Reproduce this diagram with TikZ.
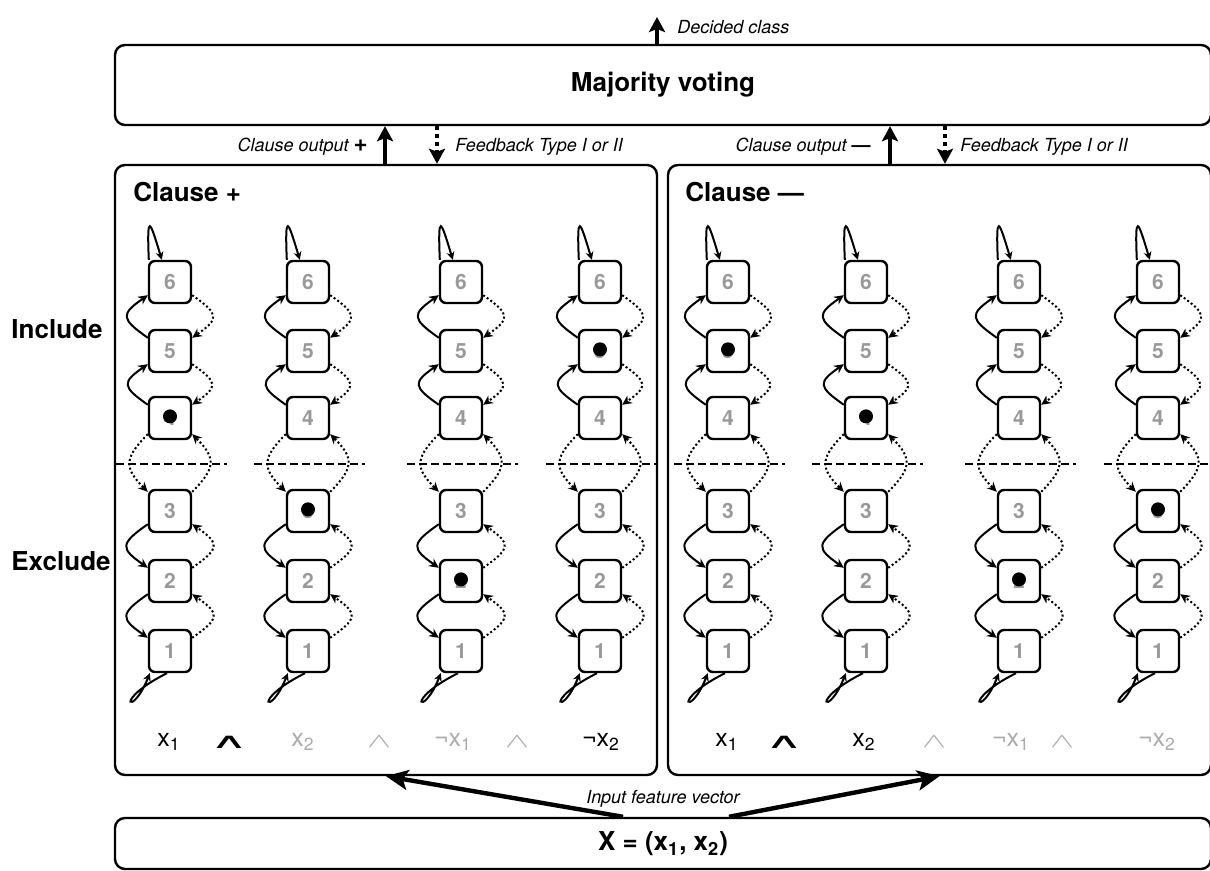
\documentclass[tikz,border=0pt]{standalone}
\usepackage{fontspec}
\setmainfont{TeX Gyre Heros}
\newfontfamily\symfont{DejaVu Sans}
\usetikzlibrary{positioning, arrows.meta}

\definecolor{numgray}{HTML}{999999}
\definecolor{litgray}{HTML}{ABABAB}

\newcommand{\andsym}{\scalebox{1.5}[0.85]{$\wedge$}}
\newcommand{\andbold}{\scalebox{2.1}[0.85]{\symfont\char"2227}}
\newcommand{\bigsign}[1]{{\bfseries\upshape #1}}

\begin{document}
\begin{tikzpicture}[x=0.5pt, y=0.5pt,
    panel/.style={draw, line width=1.2pt, rounded corners=5pt, inner sep=0pt},
    state/.style={draw, line width=1.2pt, rounded corners=3pt, minimum size=21pt,
      inner sep=0pt, text=numgray, font=\fontsize{10.5}{11}\selectfont\bfseries},
    fwd/.style={line width=1pt, -{Stealth[length=4.8pt, width=4.6pt]}},
    bwd/.style={fwd, dash pattern=on 1pt off 1.2pt},
    selfloop/.style={line width=1pt, -{Stealth[length=4pt, width=4pt]}},
    note/.style={font=\fontsize{9}{10}\selectfont\itshape, inner sep=0pt},
    flow/.style={line width=1.6pt, -{Stealth[length=7.5pt, width=8pt, inset=1.5pt]}},
    feed/.style={flow, dash pattern=on 2pt off 2pt},
    input/.style={line width=2.2pt, -{Stealth[length=11pt, width=10pt, inset=2.5pt]}},
    lit/.style={font=\fontsize{12.5}{14}\selectfont, inner sep=0pt},
    off/.style={lit, text=litgray},
    head/.style={font=\fontsize{13}{15}\selectfont\bfseries, inner sep=0pt},
  ]

  \useasboundingbox (0,0) rectangle (1210,871);

  \node[panel, head, minimum width=548pt, minimum height=40pt] (vote) at (663,786) {Majority voting};
  \node[panel, minimum width=271pt, minimum height=305pt] (cplus) at (386,401) {};
  \node[panel, minimum width=271.5pt, minimum height=305pt] (cminus) at (939.5,401) {};
  \node[panel, head, minimum width=548pt, minimum height=25.5pt] (xvec) at (663,27.5)
    {X = (x\textsubscript{1}, x\textsubscript{2})};

  \node[head, anchor=west] (tplus) at (133,679) {Clause +};
  \node[head, anchor=west] (tminus) at (685,679) {Clause —};
  \node[head] (incl) at (57,542) {Include};
  \node[head] (excl) at (61,310) {Exclude};

  \coordinate (decided) at (657,854);
  \coordinate (outp) at (385,0);
  \coordinate (fbp) at (437,0);
  \coordinate (outm) at (890,0);
  \coordinate (fbm) at (945,0);

  \draw[flow] (vote.north -| decided) -- (decided);
  \draw[flow] (cplus.north -| outp) -- (vote.south -| outp);
  \draw[feed] (vote.south -| fbp) -- (cplus.north -| fbp);
  \draw[flow] (cminus.north -| outm) -- (vote.south -| outm);
  \draw[feed] (vote.south -| fbm) -- (cminus.north -| fbm);

  \node[note, anchor=west] (dlabel) at (677,844) {Decided class};
  \node[note, anchor=east] (oplabel) at (368,724) {Clause output {\fontsize{12}{12}\selectfont\bigsign{+}}};
  \node[note, anchor=west] (fplabel) at (455,724) {Feedback Type I or II};
  \node[note, anchor=east] (omlabel) at (871,724) {Clause output {\fontsize{9.5}{12}\selectfont\bigsign{—}}};
  \node[note, anchor=west] (fmlabel) at (960,724) {Feedback Type I or II};

  \draw[input] (xvec.north -| 623,0) -- (cplus.south);
  \draw[input] (xvec.north -| 729,0) -- (cminus.south);
  \node[note] (ifv) at (663,72) {Input feature vector};

  \foreach \c/\x/\d in {1/170/4, 2/308/3, 3/461/2, 4/600/5, 5/728/5, 6/866/4, 7/1019/2, 8/1158/3} {
    \draw[dash pattern=on 4pt off 2pt, line width=0.9pt] (\x-54,407) -- (\x+57,407);
    \foreach \r/\y in {1/220, 2/290, 3/360, 4/453, 5/520, 6/589}
      \node[state] (s\c-\r) at (\x,\y) {\r};
    \fill ([yshift=0.8pt]s\c-\d.center) circle (3.5pt);
    \foreach \a/\b in {4/5, 5/6} {
      \draw[fwd] ([yshift=-4.5pt]s\c-\a.north west) to[out=145, in=215, looseness=2] ([yshift=4.5pt]s\c-\b.south west);
      \draw[bwd] ([yshift=4.5pt]s\c-\b.south east) to[out=-35, in=35, looseness=2] ([yshift=-4.5pt]s\c-\a.north east);
    }
    \foreach \a/\b in {3/2, 2/1} {
      \draw[fwd] ([yshift=4.5pt]s\c-\a.south west) to[out=215, in=145, looseness=2] ([yshift=-4.5pt]s\c-\b.north west);
      \draw[bwd] ([yshift=-4.5pt]s\c-\b.north east) to[out=35, in=-35, looseness=2] ([yshift=4.5pt]s\c-\a.south east);
    }
    \draw[bwd] ([yshift=3pt]s\c-4.south west) to[out=225, in=135, looseness=1.5] ([yshift=-1.5pt]s\c-3.north west);
    \draw[bwd] ([yshift=-1.5pt]s\c-3.north east) to[out=45, in=-45, looseness=1.5] ([yshift=3pt]s\c-4.south east);
    \draw[selfloop] ([xshift=0.5pt]s\c-6.north west) .. controls +(-2,48) and +(-12,40) .. ([xshift=7pt]s\c-6.north west);
    \draw[selfloop] ([xshift=-1.5pt]s\c-1.south) .. controls +(-56,-28) and +(-18,-46) .. ([xshift=1pt]s\c-1.south west);
  }

  \node[lit] (p1) at (169,129) {x\textsubscript{1}};
  \node[lit] (p2) at (229,129) {\andbold};
  \node[off] (p3) at (303,129) {x\textsubscript{2}};
  \node[off] (p4) at (379,129) {\andsym};
  \node[off] (p5) at (453,129) {¬x\textsubscript{1}};
  \node[off] (p6) at (517,129) {\andsym};
  \node[lit] (p7) at (601,129) {¬x\textsubscript{2}};

  \node[lit] (m1) at (727,129) {x\textsubscript{1}};
  \node[lit] (m2) at (784,129) {\andbold};
  \node[lit] (m3) at (864,129) {x\textsubscript{2}};
  \node[off] (m4) at (934,129) {\andsym};
  \node[off] (m5) at (1011,129) {¬x\textsubscript{1}};
  \node[off] (m6) at (1062,129) {\andsym};
  \node[off] (m7) at (1157,129) {¬x\textsubscript{2}};

\end{tikzpicture}
\end{document}
